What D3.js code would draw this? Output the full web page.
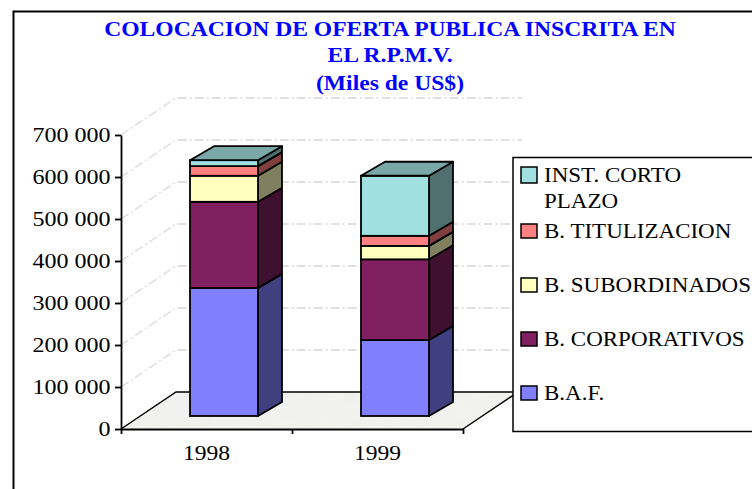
<!DOCTYPE html>
<html><head><meta charset="utf-8">
<script src="https://cdnjs.cloudflare.com/ajax/libs/d3/7.8.5/d3.min.js"></script>
<style>html,body{margin:0;padding:0;background:#fff}svg{display:block}text{font-family:"Liberation Serif",serif}</style>
</head><body><svg id="c" width="752" height="489"></svg>
<script>
const titleLines = ["COLOCACION DE OFERTA PUBLICA INSCRITA EN","EL R.P.M.V.","(Miles de US$)"];
const years = ["1998","1999"];
const seriesNames = ["B.A.F.","B. CORPORATIVOS","B. SUBORDINADOS","B. TITULIZACION","INST. CORTO PLAZO"];
const baf = [305000,181000];
const corporativos = [205000,192000];
const subordinados = [62000,32000];
const titulizacion = [23000,24000];
const instCorto = [14000,143000];
const colors = ["#8080ff","#802060","#ffffc0","#ff8080","#a0e0e0"];
const sideColors = ["#404080","#401030","#808060","#804040","#507070"];
const topColors = ["#404080","#401030","#808060","#804040","#7aa8a8"];
const yTicks = [0,100000,200000,300000,400000,500000,600000,700000];

const svg = d3.select("#c");
const seriesValues = [baf,corporativos,subordinados,titulizacion,instCorto];
const x = d3.scaleBand().domain(years).range([121,463]);
const y = d3.scaleLinear().domain([0,700000]).range([429,135]);
const depth = {dx:55,dy:-37};
const barDepth = {dx:24,dy:-14};
const barFront = {dx:17.5,dy:-13};
const barW = 68;
const fmt = v => d3.format(",")(v).replace(/,/g," ");

const defs = svg.append("defs");
const f = defs.append("filter").attr("id","tex").attr("x",0).attr("y",0).attr("width",1).attr("height",1);
f.append("feTurbulence").attr("type","fractalNoise").attr("baseFrequency",0.07).attr("numOctaves",2).attr("seed",4).attr("result","n");
f.append("feColorMatrix").attr("in","n").attr("type","matrix").attr("values","0 0 0 0 0.89  0 0 0 0 0.89  0 0 0 0 0.87  1.6 0 0 0 -0.35").attr("result","c");
f.append("feComposite").attr("in","c").attr("in2","SourceGraphic").attr("operator","in");

function stretched(sel,sx,px,py){ sel.attr("transform",`translate(${px},${py}) scale(${sx},1)`); return sel; }

// outer frame
svg.append("path").attr("d","M752,11.5H13.5V489").attr("fill","none").attr("stroke","#000").attr("stroke-width",2);

// title
const titleY=[36,62,90];
titleLines.forEach((t,i)=>{
  stretched(svg.append("text").text(t).attr("text-anchor","middle").attr("fill","#0000ff")
   .attr("font-weight","bold").attr("font-size",20),1.18,390,titleY[i]);
});

// floor
const x0=x.range()[0], x1=x.range()[1], y0=y(0);
const floorD=`M${x0},${y0}L${x0+depth.dx},${y0+depth.dy}H${x1+depth.dx}L${x1},${y0}Z`;
svg.append("path").attr("d",floorD).attr("fill","#f0f0ee");
svg.append("path").attr("d",floorD).attr("fill","#fff").attr("filter","url(#tex)");
svg.append("path").attr("d",`M${x0},${y0}L${x0+depth.dx},${y0+depth.dy}H${x1+depth.dx}`).attr("fill","none").attr("stroke","#000").attr("stroke-width",1.5);
svg.append("path").attr("d",`M${x1},${y0}L${x1+depth.dx},${y0+depth.dy}`).attr("fill","none").attr("stroke","#000").attr("stroke-width",1.5);

// gridlines
yTicks.filter(d=>d>0).forEach(t=>{
  svg.append("path").attr("d",`M${x0},${y(t)}L${x0+depth.dx},${y(t)+depth.dy}H${x1+depth.dx+4}`)
   .attr("fill","none").attr("stroke","#d8d8d8").attr("stroke-width",1.3).attr("stroke-dasharray","9 3 2 3");
});

// bars
years.forEach((yr,i)=>{
  const left = x(yr)+x.bandwidth()/2-barW/2+barFront.dx;
  const right = left+barW;
  const base = v => y(v)+barFront.dy;
  let cum=0;
  const g=svg.append("g");
  seriesValues.forEach((vals,s)=>{
    const a=cum, b=cum+vals[i]; cum=b;
    g.append("path").attr("d",`M${right},${base(a)}l${barDepth.dx},${barDepth.dy}V${base(b)+barDepth.dy}L${right},${base(b)}Z`)
     .attr("fill",sideColors[s]).attr("stroke","#000").attr("stroke-width",1.8).attr("stroke-linejoin","round");
    g.append("rect").attr("x",left).attr("y",base(b)).attr("width",barW).attr("height",base(a)-base(b))
     .attr("fill",colors[s]).attr("stroke","#000").attr("stroke-width",1.8);
    if(s===seriesValues.length-1){
      g.append("path").attr("d",`M${left},${base(b)}l${barDepth.dx},${barDepth.dy}h${barW}L${right},${base(b)}Z`)
       .attr("fill",topColors[s]).attr("stroke","#000").attr("stroke-width",1.8).attr("stroke-linejoin","round");
    }
  });
});

// axes
const yAxis=d3.axisLeft(y).tickValues(yTicks).tickFormat(()=>"").tickSize(6).tickSizeOuter(0);
const gy=svg.append("g").attr("transform",`translate(${x0},0)`).call(yAxis);
gy.selectAll("path,line").attr("stroke","#000").attr("stroke-width",1.8);
yTicks.forEach(t=>{
  stretched(svg.append("text").text(fmt(t)).attr("text-anchor","end").attr("fill","#000").attr("font-size",20),1.2,110.5,y(t)+6.5);
});
const catTicks=[x0,x0+x.step(),x1];
const xT=d3.scaleLinear().domain([x0,x1]).range([x0,x1]);
const gx=svg.append("g").attr("transform",`translate(0,${y0})`).call(d3.axisBottom(xT).tickValues(catTicks).tickFormat("").tickSize(5).tickSizeOuter(0));
gx.selectAll("path,line").attr("stroke","#000").attr("stroke-width",1.8);
years.forEach(yr=>{
  stretched(svg.append("text").text(yr).attr("text-anchor","middle").attr("fill","#000").attr("font-size",20),1.18,x(yr)+x.bandwidth()/2,460);
});

// legend
svg.append("rect").attr("x",513).attr("y",157.5).attr("width",250).attr("height",274).attr("fill","#fff").attr("stroke","#000").attr("stroke-width",1.5);
const legendOrder=[4,3,2,1,0];
const legendY=[167,224,278,332,386];
legendOrder.forEach((s,i)=>{
  svg.append("rect").attr("x",521).attr("y",legendY[i]).attr("width",16).attr("height",legendY[i]===167?16:14)
    .attr("fill",colors[s]).attr("stroke","#000").attr("stroke-width",1.5);
  const name=seriesNames[s];
  const lines=name==="INST. CORTO PLAZO"?["INST. CORTO","PLAZO"]:[name];
  lines.forEach((l,j)=>{
    stretched(svg.append("text").text(l).attr("fill","#000").attr("font-size",20),1.15,544,legendY[i]+(s===4?15:14)+j*26);
  });
});
</script></body></html>
